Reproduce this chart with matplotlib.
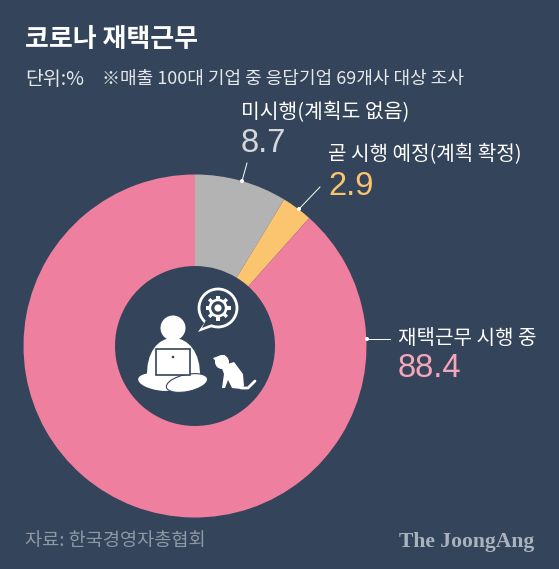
import matplotlib
matplotlib.use('Agg')
import matplotlib.pyplot as plt
from matplotlib.patches import Circle, Rectangle, Ellipse, Polygon, PathPatch
from matplotlib.path import Path
from matplotlib.lines import Line2D
from matplotlib.transforms import Affine2D
import numpy as np

plt.rcParams['font.family'] = ['Noto Sans CJK KR', 'DejaVu Sans']

labels = ['미시행(계획도 없음)', '곧 시행 예정(계획 확정)', '재택근무 시행 중']
values = [8.7, 2.9, 88.4]
slice_colors = ['#b3b3b3', '#fbc570', '#ef7f9f']
value_colors = ['#d4d6da', '#fbc570', '#f5a6bb']
BG = '#34445a'
W, H = 559, 569

fig = plt.figure(figsize=(W/100, H/100), dpi=100, facecolor=BG)
ax = fig.add_axes([0, 0, 1, 1])

cx, cy, R = 195, 346, 171.5
wedges, _ = ax.pie(values, colors=slice_colors, startangle=90, counterclock=False,
                   center=(cx, cy), radius=R, frame=True,
                   wedgeprops=dict(width=R-80, linewidth=0))
ax.set_xlim(0, W); ax.set_ylim(H, 0); ax.axis('off'); ax.set_aspect('equal')
for w in wedges:
    t1, t2 = w.theta1, w.theta2
    w.set_theta1(-t2); w.set_theta2(-t1)

ax.text(25, 39, '코로나 재택근무', fontsize=18.7, fontweight='bold', color='white', va='center')
ax.text(25, 79, '단위:%', fontsize=14, color='#e6e8eb', va='center')
ax.text(102, 79, '※매출 100대 기업 중 응답기업 69개사 대상 조사', fontsize=13, color='#e6e8eb', va='center')

ax.text(241, 113, labels[0], fontsize=14.7, color='white', va='center')
ax.text(241, 143, f'{values[0]}', fontsize=23.5, color=value_colors[0], va='center', family='Liberation Sans')
ax.text(328, 155, labels[1], fontsize=14.5, color='white', va='center')
ax.text(328, 186, f'{values[1]}', fontsize=23.5, color=value_colors[1], va='center', family='Liberation Sans')
ax.text(398, 338, labels[2], fontsize=14.5, color='white', va='center')
ax.text(398, 368, f'{values[2]}', fontsize=23.5, color=value_colors[2], va='center', family='Liberation Sans')

ax.add_line(Line2D([247, 242], [163, 181], color='white', lw=0.7))
ax.add_line(Line2D([320, 299], [187, 209], color='white', lw=0.7))
ax.add_line(Line2D([367, 390], [339, 339], color='white', lw=0.7))
for p in [(242, 181), (299, 209), (367, 339)]:
    ax.add_patch(Circle(p, 2, color='white', lw=0))

ax.text(25, 541, '자료: 한국경영자총협회', fontsize=13.4, color='#8f99a6', va='center')
ax.text(534, 542, 'The JoongAng', fontsize=15.6, color='#aab2be', va='center', ha='right',
        family='Liberation Serif', fontweight='bold')

# person with laptop
ax.add_patch(Circle((173, 328), 12.5, color='white', lw=0))
ax.add_patch(PathPatch(Path(
    [(147, 378), (146, 352), (158, 338), (173, 338), (188, 338), (201, 352), (200, 378), (147, 378)],
    [Path.MOVETO, Path.CURVE4, Path.CURVE4, Path.CURVE4, Path.CURVE4, Path.CURVE4, Path.CURVE4, Path.CLOSEPOLY]),
    color='white', lw=0))
ax.add_patch(Ellipse((160, 382), 44, 17, angle=8, color='white', lw=0))
ax.add_patch(Ellipse((187, 383), 42, 17, angle=-12, facecolor='white', edgecolor=BG, lw=0.8))
ax.add_patch(Rectangle((156, 349), 34, 26, facecolor='white', edgecolor=BG, lw=1.2))
ax.add_patch(Circle((173, 357), 1.3, color=BG, lw=0))
# speech bubble and gear
ax.add_patch(Polygon([[205, 322], [198, 332], [212, 327]], facecolor='white', lw=0))
ax.add_patch(Circle((218, 308), 19, facecolor=BG, edgecolor='white', lw=2))
ax.add_patch(Polygon([[206, 320], [202, 328], [212, 324]], facecolor=BG, lw=0))
ax.add_patch(Circle((218, 308), 9.5, color='white', lw=0))
for a in np.arange(0, 360, 45):
    ax.add_patch(Rectangle((216.3, 308-12.5), 3.4, 6, color='white', lw=0,
                           transform=Affine2D().rotate_deg_around(218, 308, a) + ax.transData))
ax.add_patch(Circle((218, 308), 6.8, color=BG, lw=0))
ax.add_patch(Circle((218, 308), 3.6, color='white', lw=0))
# cat
ax.add_patch(Circle((222, 362), 7, color='white', lw=0))
ax.add_patch(Polygon([[213, 358], [219, 356], [217, 363]], color='white', lw=0))
ax.add_patch(Polygon([[221, 356], [225, 355], [227, 361]], color='white', lw=0))
ax.add_patch(PathPatch(Path(
    [(221, 366), (224, 374), (222, 388), (225, 388), (228, 380), (232, 388), (241, 389), (244, 386), (243, 374), (234, 362), (221, 366)],
    [Path.MOVETO, Path.LINETO, Path.LINETO, Path.LINETO, Path.LINETO, Path.LINETO, Path.LINETO, Path.LINETO, Path.LINETO, Path.LINETO, Path.CLOSEPOLY]),
    color='white', lw=0))
ax.add_line(Line2D([241, 248, 255], [388, 388, 381], color='white', lw=2, solid_capstyle='round'))

fig.savefig('out.png', dpi=100, facecolor=BG)
